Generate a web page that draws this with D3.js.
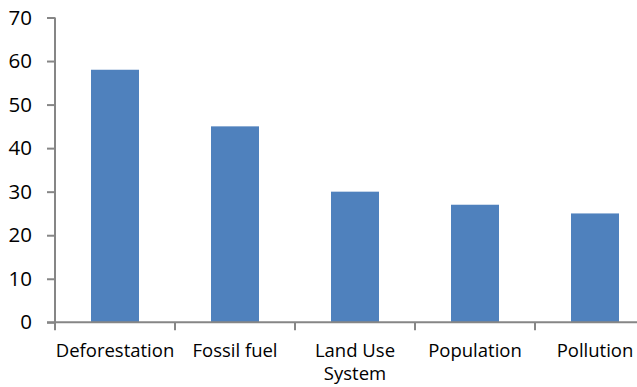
<!DOCTYPE html>
<html>
<head>
<meta charset="utf-8">
<script src="https://cdn.jsdelivr.net/npm/d3@7"></script>
<style>
  html, body { margin: 0; padding: 0; background: #fff; }
  svg { display: block; }
</style>
</head>
<body>
<svg id="chart" width="637" height="387"></svg>
<script>
// Causes and their values
const categories = ["Deforestation", "Fossil fuel", "Land Use System", "Population", "Pollution"];
const values = [58, 45, 30, 27, 25];
const yTicks = [0, 10, 20, 30, 40, 50, 60, 70];

const svg = d3.select("#chart");
const W = 637, H = 387;
const plotLeft = 55, plotTop = 17.5, plotBottom = 322.3;

const x = d3.scaleBand().domain(categories).range([plotLeft, plotLeft + 600]).paddingInner(0.6).paddingOuter(0.3);
const y = d3.scaleLinear().domain([0, 70]).range([plotBottom, plotTop]);

const axisColor = "#868686";

// Bars
svg.append("g").selectAll("rect").data(values).join("rect")
  .attr("x", (d, i) => x(categories[i]))
  .attr("width", x.bandwidth())
  .attr("y", d => y(d))
  .attr("height", d => y(0) - y(d))
  .attr("fill", "#4F81BD");

// Y axis
const yAxis = svg.append("g").attr("transform", `translate(${plotLeft},0)`)
  .call(d3.axisLeft(y).tickValues(yTicks).tickSize(8).tickPadding(15));
yAxis.select(".domain").attr("stroke", axisColor).attr("stroke-width", 2).attr("d", `M0,${plotTop}V${plotBottom}`);
yAxis.selectAll(".tick line").attr("stroke", axisColor).attr("stroke-width", 2);
yAxis.selectAll(".tick text").attr("fill", "#000").style("font-family", "'Open Sans', sans-serif").style("font-size", "20.5px");

// X axis with ticks at band boundaries
const step = x.step();
const bounds = d3.range(categories.length + 1).map(i => plotLeft + i * step);
const xg = svg.append("g");
xg.append("line").attr("x1", plotLeft - 8).attr("x2", W).attr("y1", plotBottom).attr("y2", plotBottom)
  .attr("stroke", axisColor).attr("stroke-width", 2);
xg.selectAll("line.tk").data(bounds).join("line").attr("class", "tk")
  .attr("x1", d => d).attr("x2", d => d).attr("y1", plotBottom).attr("y2", plotBottom + 8)
  .attr("stroke", axisColor).attr("stroke-width", 2);

// Category labels, wrapped onto two lines where needed
const labelLines = { "Land Use System": ["Land Use", "System"] };
xg.selectAll("text").data(categories).join("text")
  .attr("text-anchor", "middle")
  .attr("x", d => x(d) + x.bandwidth() / 2)
  .attr("y", 357)
  .style("font-family", "'Open Sans', sans-serif").style("font-size", "18.5px").attr("fill", "#000")
  .each(function(d) {
    const lines = labelLines[d] || [d];
    const t = d3.select(this);
    lines.forEach((ln, i) => t.append("tspan").attr("x", x(d) + x.bandwidth() / 2).attr("dy", i === 0 ? 0 : 23).text(ln));
  });
</script>
</body>
</html>
